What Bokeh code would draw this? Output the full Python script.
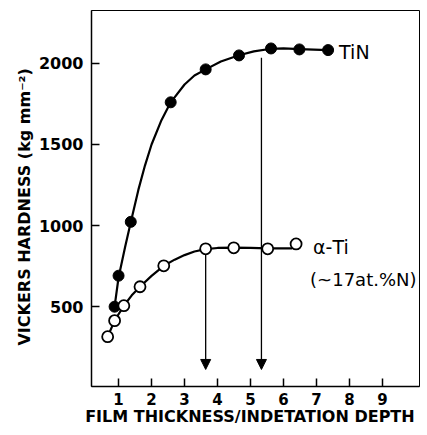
from bokeh.plotting import figure
from bokeh.models import Range1d, FixedTicker, Label, Arrow, NormalHead
from bokeh.embed import file_html
from bokeh.resources import INLINE

# ---- data ----
tin_x = [0.88, 1.0, 1.37, 2.58, 3.64, 4.65, 5.62, 6.48, 7.35]
tin_y = [500, 691, 1023, 1760, 1963, 2049, 2092, 2086, 2082]

ti_x = [0.67, 0.88, 1.16, 1.65, 2.37, 3.64, 4.49, 5.52, 6.38]
ti_y = [315, 414, 506, 623, 752, 857, 863, 857, 887]

# hand-drawn smooth curves
tin_curve_x = [0.88, 1.0, 1.2, 1.37, 1.6, 1.8, 2.0, 2.3, 2.58, 3.0, 3.3, 3.64,
               4.1, 4.65, 5.1, 5.62, 6.0, 6.48, 7.35]
tin_curve_y = [500, 680, 870, 1020, 1220, 1370, 1500, 1650, 1760, 1870, 1925,
               1963, 2012, 2050, 2074, 2090, 2092, 2088, 2082]

ti_curve_x = [0.67, 0.88, 1.16, 1.4, 1.65, 2.0, 2.37, 2.7, 3.0, 3.3, 3.64,
              4.0, 4.49, 5.0, 5.52, 6.25]
ti_curve_y = [315, 414, 506, 570, 623, 690, 752, 790, 818, 840, 855, 862,
              864, 862, 860, 860]

x_ticks = [1, 2, 3, 4, 5, 6, 7, 8, 9]
y_ticks = [500, 1000, 1500, 2000]

arrow_x = [3.64, 5.33]
arrow_from = [820, 2035]
arrow_to = [113, 113]

FONT = "DejaVu Sans"

p = figure(width=420, height=428, output_backend="svg", toolbar_location=None,
           x_range=Range1d(0.18, 10.12), y_range=Range1d(8, 2326),
           min_border_left=91, min_border_right=1, min_border_top=10,
           min_border_bottom=30)
p.background_fill_color = "white"
p.border_fill_color = "white"
p.outline_line_color = "black"
p.outline_line_width = 1
p.xgrid.visible = False
p.ygrid.visible = False

for ax in (p.xaxis[0], p.yaxis[0]):
    ax.major_tick_in = 8
    ax.major_tick_out = 0
    ax.minor_tick_line_color = None
    ax.axis_line_width = 1.5
    ax.major_tick_line_width = 1.5
    ax.major_label_text_font = FONT
    ax.major_label_text_font_style = "bold"
    ax.major_label_text_color = "black"
    ax.axis_label_text_font = FONT
    ax.axis_label_text_font_size = "16px"
    ax.axis_label_text_font_style = "bold"
    ax.axis_label_text_color = "black"

p.xaxis.major_label_text_font_size = "15px"
p.yaxis.major_label_text_font_size = "16px"
p.xaxis.ticker = FixedTicker(ticks=x_ticks)
p.yaxis.ticker = FixedTicker(ticks=y_ticks)
p.xaxis.major_label_standoff = 6
p.yaxis.major_label_standoff = 8
p.xaxis.axis_label = "FILM  THICKNESS/INDETATION  DEPTH"
p.yaxis.axis_label = "VICKERS  HARDNESS   (kg mm\u207b\u00b2)"
p.xaxis.axis_label_standoff = -1
p.yaxis.axis_label_standoff = 2

# curves
p.line(tin_curve_x, tin_curve_y, line_color="black", line_width=2.2,
       line_join="round", line_cap="round")
p.line(ti_curve_x, ti_curve_y, line_color="black", line_width=2.2,
       line_join="round", line_cap="round")

# markers
p.scatter(tin_x, tin_y, size=11, marker="circle", fill_color="black",
          line_color="black")
p.scatter(ti_x, ti_y, size=11, marker="circle", fill_color="white",
          line_color="black", line_width=1.8)

# arrows
for ax_, y0, y1 in zip(arrow_x, arrow_from, arrow_to):
    p.add_layout(Arrow(end=NormalHead(size=10, fill_color="black",
                                      line_color="black", line_width=1),
                       x_start=ax_, y_start=y0, x_end=ax_, y_end=y1,
                       line_color="black", line_width=1.3))

# labels
p.add_layout(Label(x=tin_x[-1], y=tin_y[-1], text="TiN", x_offset=11,
                   y_offset=-2, text_baseline="middle", text_font=FONT,
                   text_font_size="19px", text_color="black"))
p.add_layout(Label(x=ti_x[-1], y=ti_y[-1], text="\u03b1-Ti", x_offset=17,
                   y_offset=-3, text_baseline="middle", text_font=FONT,
                   text_font_size="19px", text_color="black"))
p.add_layout(Label(x=ti_x[-1], y=ti_y[-1], text="(~17at.%N)", x_offset=14,
                   y_offset=-36, text_baseline="middle", text_font=FONT,
                   text_font_size="18px", text_color="black"))

open("out.html", "w").write(file_html(p, INLINE))
